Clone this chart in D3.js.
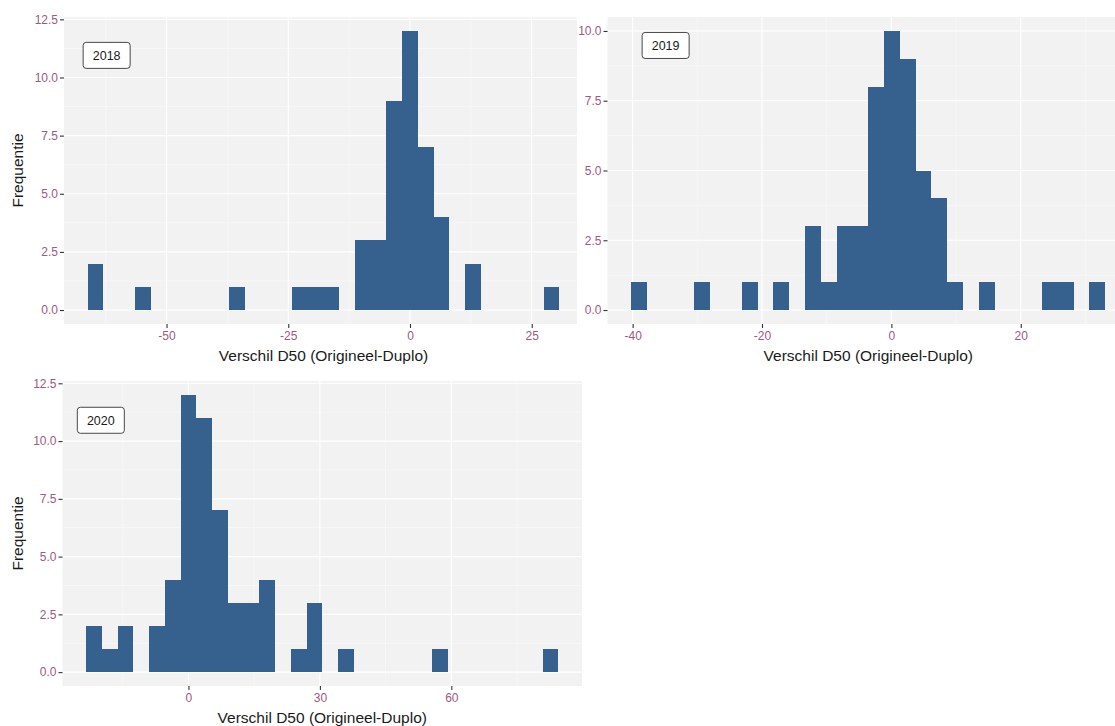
<!DOCTYPE html>
<html>
<head>
<meta charset="utf-8">
<script src="https://cdn.jsdelivr.net/npm/d3@7"></script>
<style>
  body { margin: 0; background: #fff; }
  svg { display: block; font-family: "Liberation Sans", Arial, sans-serif; }
</style>
</head>
<body>
<div id="chart-area"></div>
<script>
// histogram data, 30 bins per year (counts)
const years = ["2018", "2019", "2020"];
const firstBinCenter = [-64.6, -39.0, -21.56];
const binWidth = [3.23, 2.443, 3.593];
const counts2018 = [2,0,0,1,0,0,0,0,0,1, 0,0,0,1,1,1,0,3,3,9, 12,7,4,0,2,0,0,0,0,1];
const counts2019 = [1,0,0,0,1,0,0,1,0,1, 0,3,1,3,3,8,10,9,5,4, 1,0,1,0,0,0,1,1,0,1];
const counts2020 = [2,1,2,0,2,4,12,11,7,3, 3,4,0,1,3,0,1,0,0,0, 0,0,1,0,0,0,0,0,0,1];
const xTicks2018 = [-50, -25, 0, 25];
const xTicks2019 = [-40, -20, 0, 20];
const xTicks2020 = [0, 30, 60];
const yTicks = [0, 2.5, 5, 7.5, 10, 12.5];

const allCounts = [counts2018, counts2019, counts2020];
const allXTicks = [xTicks2018, xTicks2019, xTicks2020];

const svgWidth = 1115, svgHeight = 726;
const barColor = "#36618f";
const tickColor = "#9b5a80";

// layout of the three panels (figure box + plot area)
const panels = [
  { fig: [0, 0, 577, 370],   plot: [64, 17, 583, 324],    label: [-62.3, 10.95], yTitle: true },
  { fig: [577, 0, 538, 370], plot: [607.5, 17, 1129, 324], label: [-34.9, 9.48],  yTitle: false },
  { fig: [0, 370, 577, 356], plot: [62.5, 381, 582, 686],  label: [-20, 10.9],    yTitle: true }
];

const svg = d3.select("#chart-area")
  .append("svg")
    .attr("width", svgWidth)
    .attr("height", svgHeight);

svg.append("rect")
  .attr("width", svgWidth).attr("height", svgHeight)
  .attr("fill", "#fff");

panels.forEach((p, i) => {
  const counts = allCounts[i];
  const c0 = firstBinCenter[i], w = binWidth[i];
  const bins = counts.map((n, k) => ({ x0: c0 + (k - 0.5) * w, x1: c0 + (k + 0.5) * w, n }));

  // ggplot-like 5% expansion
  const lo = bins[0].x0, hi = bins[bins.length - 1].x1;
  const padX = (hi - lo) * 0.05;
  const maxN = d3.max(counts);
  const padY = maxN * 0.05;

  const [px0, py0, px1, py1] = p.plot;
  const x = d3.scaleLinear().domain([lo - padX, hi + padX]).range([px0, px1]);
  const y = d3.scaleLinear().domain([-padY, maxN + padY]).range([py1, py0]);

  const g = svg.append("g");

  // white figure background (covers neighbour overflow)
  g.append("rect")
    .attr("x", p.fig[0]).attr("y", p.fig[1])
    .attr("width", p.fig[2]).attr("height", p.fig[3])
    .attr("fill", "#fff");

  g.append("rect")
    .attr("x", px0).attr("y", py0)
    .attr("width", px1 - px0).attr("height", py1 - py0)
    .attr("fill", "#f2f2f2");

  // grid
  const xt = allXTicks[i];
  const step = xt[1] - xt[0];
  const xMinor = d3.range(xt[0] - step / 2, hi + padX, step).filter(v => v > lo - padX && !xt.includes(v));
  const yMaj = yTicks.filter(v => v <= maxN + padY);
  const yMinor = d3.range(1.25, maxN + padY, 2.5);

  g.selectAll(null).data(yMinor).enter().append("line")
    .attr("x1", px0).attr("x2", px1)
    .attr("y1", d => y(d)).attr("y2", d => y(d))
    .attr("stroke", "#fafafa").attr("stroke-width", 0.6);
  g.selectAll(null).data(xMinor).enter().append("line")
    .attr("y1", py0).attr("y2", py1)
    .attr("x1", d => x(d)).attr("x2", d => x(d))
    .attr("stroke", "#fafafa").attr("stroke-width", 0.6);
  g.selectAll(null).data(yMaj).enter().append("line")
    .attr("x1", px0).attr("x2", px1)
    .attr("y1", d => y(d)).attr("y2", d => y(d))
    .attr("stroke", "#fff").attr("stroke-width", 1.1);
  g.selectAll(null).data(xt).enter().append("line")
    .attr("y1", py0).attr("y2", py1)
    .attr("x1", d => x(d)).attr("x2", d => x(d))
    .attr("stroke", "#fff").attr("stroke-width", 1.1);

  // bars
  g.selectAll(null).data(bins.filter(b => b.n > 0)).enter().append("rect")
    .attr("x", d => x(d.x0))
    .attr("width", d => x(d.x1) - x(d.x0))
    .attr("y", d => y(d.n))
    .attr("height", d => y(0) - y(d.n))
    .attr("fill", barColor)
    .attr("shape-rendering", "crispEdges");

  // axes
  const yAxis = g.append("g")
    .attr("transform", `translate(${px0},0)`)
    .call(d3.axisLeft(y).tickValues(yMaj).tickFormat(d3.format(".1f")).tickSize(4).tickPadding(2));
  const xAxis = g.append("g")
    .attr("transform", `translate(0,${py1})`)
    .call(d3.axisBottom(x).tickValues(xt).tickFormat(d => String(d)).tickSize(4).tickPadding(3));
  [yAxis, xAxis].forEach(a => {
    a.select(".domain").remove();
    a.selectAll(".tick line").attr("stroke", "#333").attr("stroke-width", 1.1);
    a.selectAll(".tick text")
      .attr("fill", tickColor)
      .attr("font-size", 12)
      .attr("font-family", "Liberation Sans, Arial, sans-serif");
  });

  // axis titles
  g.append("text")
    .text("Verschil D50 (Origineel-Duplo)")
    .attr("x", (px0 + px1) / 2)
    .attr("y", py1 + 37)
    .attr("text-anchor", "middle")
    .attr("font-size", 15.5)
    .attr("fill", "#1a1a1a");

  if (p.yTitle) {
    g.append("text")
      .text("Frequentie")
      .attr("transform", `translate(${p.fig[0] + 23},${(py0 + py1) / 2}) rotate(-90)`)
      .attr("text-anchor", "middle")
      .attr("font-size", 15.5)
      .attr("fill", "#1a1a1a");
  }

  // year label
  const lx = x(p.label[0]), ly = y(p.label[1]);
  g.append("rect")
    .attr("x", lx - 23.5).attr("y", ly - 13)
    .attr("width", 47).attr("height", 26)
    .attr("rx", 3)
    .attr("fill", "#fff")
    .attr("stroke", "#333")
    .attr("stroke-width", 0.9);
  g.append("text")
    .text(years[i])
    .attr("x", lx).attr("y", ly + 4.5)
    .attr("text-anchor", "middle")
    .attr("font-size", 12.5)
    .attr("fill", "#1a1a1a");
});
</script>
</body>
</html>
